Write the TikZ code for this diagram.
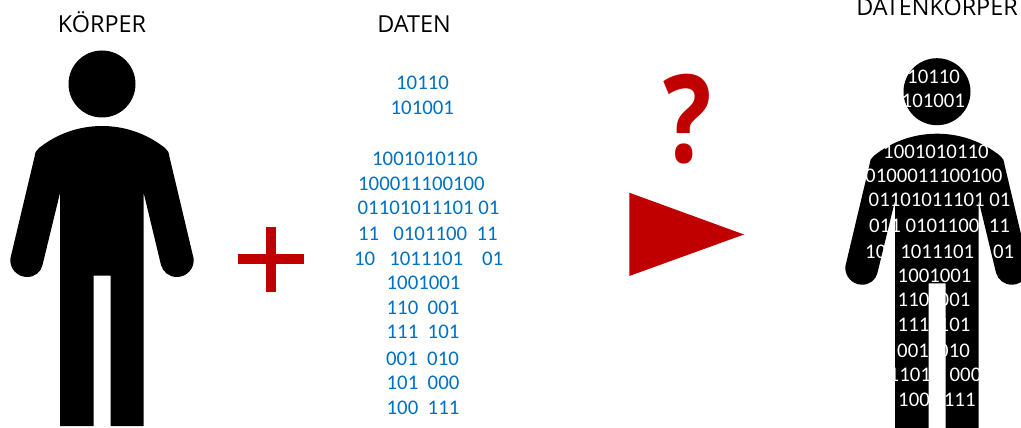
\documentclass[tikz,border=0pt]{standalone}
\usepackage{fontspec}
\setmainfont{Carlito}
\newfontfamily\titlefont{Open Sans}
\definecolor{darkred}{HTML}{C00000}
\definecolor{datablue}{HTML}{0070C0}
\tikzset{
  title/.style={font=\titlefont\fontsize{23.4}{28}\selectfont,text=black,inner sep=0pt,anchor=base},
  bits/.style={font=\fontsize{20.8}{25}\selectfont,text=datablue,inner sep=0pt,anchor=base west},
  whitebits/.style={bits,text=white},
}
\newcommand{\personshape}{
\fill[black] (102,84) circle (33.5);
\fill[black] (102,126) .. controls (80,126) and (58,133) .. (39,148) .. controls (36,150) and (35,153) .. (34.5,157)
  -- (10.5,258) .. controls (9,268) and (17,277) .. (27,277) .. controls (35,277) and (41,272) .. (42.5,265)
  -- (60,193) -- (60,426) -- (93.5,426) -- (93.5,275.7) -- (110.5,275.7) -- (110.5,426) -- (143.7,426) -- (143.7,193)
  -- (161,265) .. controls (163,272) and (169,277) .. (177,277) .. controls (187,277) and (195,268) .. (193.5,258)
  -- (169.5,157) .. controls (169,153) and (168,150) .. (165,148) .. controls (146,133) and (124,126) .. (102,126) -- cycle;
}

\begin{document}
\begin{tikzpicture}[x=1pt,y=-1pt]
\useasboundingbox (0,0) rectangle (1021,428);
\personshape
\node[title] (bodytitle) at (102,32.5) {KÖRPER};
\node[title] (datatitle) at (414,32.5) {DATEN};

\node[bits] (d1) at (396,90) {10110};
\node[bits] (d2) at (390.5,114) {101001};
\node[bits] (d3) at (372,165) {1001010110};
\node[bits] (d4) at (358,190) {100011100100};
\node[bits] (d5) at (357.5,214) {01101011101\ 01};
\node[bits] (d6) at (358,240) {11\ \ \ 0101100\ \ 11};
\node[bits] (d7) at (354,265) {10\ \ \ 1011101\ \ \ \ 01};
\node[bits] (d8) at (386.5,289) {1001001};
\node[bits] (d9) at (386.5,314) {110\ \ 001};
\node[bits] (d10) at (386.5,338) {111\ \ 101};
\node[bits] (d11) at (386,365) {001\ \ 010};
\node[bits] (d12) at (386.5,389) {101\ \ 000};
\node[bits] (d13) at (386.5,414) {100\ \ 111};

\fill[darkred] (237.7,254.3) rectangle (304.3,264.3);
\fill[darkred] (266,226.7) rectangle (276,292.3);
\node[font=\titlefont\fontsize{122}{122}\selectfont\bfseries,text=darkred,inner sep=0pt,anchor=base,xscale=0.83] (question) at (688,162) {?};
\fill[darkred] (629.3,192.7) -- (744,234.5) -- (629.3,276) -- cycle;

\begin{scope}[shift={(835,7.7)}]
\personshape
\end{scope}
\node[title] (resulttitle) at (937,16) {DATENKÖRPER};

\node[whitebits] (w1) at (907,83.3) {10110};
\node[whitebits] (w2) at (901.5,107.3) {101001};
\node[whitebits] (w3) at (883,158) {1001010110};
\node[whitebits] (w4) at (865,182.7) {0100011100100};
\node[whitebits] (w5) at (868.5,206.7) {01101011101\ 01};
\node[whitebits] (w6) at (869,232.3) {011\ 0101100\ \ 11};
\node[whitebits] (w7) at (865,258.3) {10\ \ \ 1011101\ \ \ \ 01};
\node[whitebits] (w8) at (897.5,282.3) {1001001};
\node[whitebits] (w9) at (897.5,306.7) {110\ \ 001};
\node[whitebits] (w10) at (897.5,331) {111\ \ 101};
\node[whitebits] (w11) at (897,357.3) {001\ \ 010};
\node[whitebits] (w12) at (888.5,381.7) {1101\ \ \ \ 000};
\node[whitebits] (w13) at (898,406.7) {100\ \ \ 111};
\end{tikzpicture}
\end{document}
